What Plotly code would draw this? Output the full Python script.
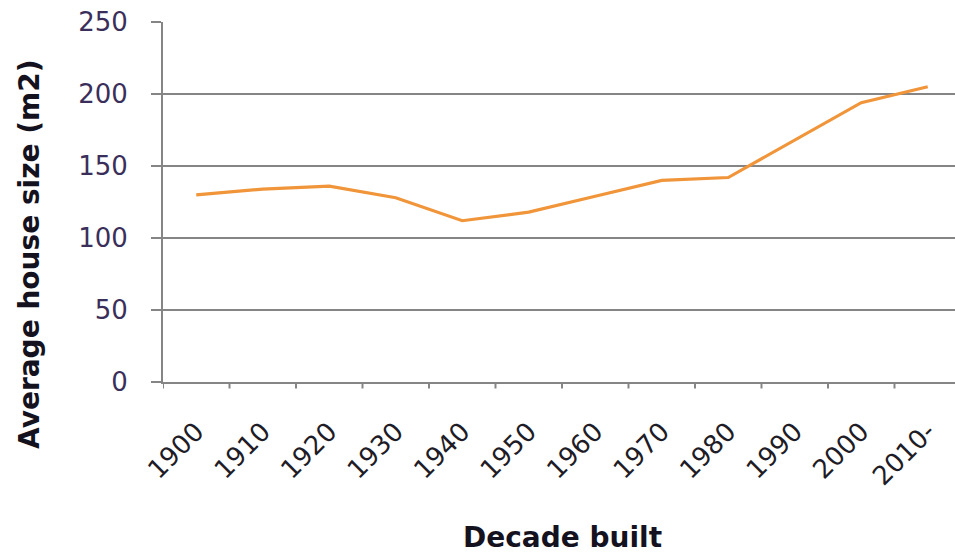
import plotly.graph_objects as go

# Average house size by decade of construction
decades = ["1900", "1910", "1920", "1930", "1940", "1950", "1960",
           "1970", "1980", "1990", "2000", "2010-"]
avg_size_m2 = [130, 134, 136, 128, 112, 118, 129, 140, 142, 168, 194, 205]

y_ticks = [0, 50, 100, 150, 200, 250]

y_tick_font = dict(family="DejaVu Sans, Verdana, sans-serif", size=26, color="#3a2f5a")
x_tick_font = dict(family="DejaVu Sans, Verdana, sans-serif", size=26, color="#1e1c26")
title_font = dict(family="DejaVu Sans, Verdana, sans-serif", size=28, color="#14121e")
grid_col = "#858585"

fig = go.Figure()
fig.add_trace(go.Scatter(
    x=list(range(len(decades))),
    y=avg_size_m2,
    mode="lines",
    line=dict(color="#f0953a", width=3.2),
    hoverinfo="skip",
    showlegend=False,
))

fig.update_layout(
    width=955, height=555,
    margin=dict(l=163, r=0, t=22, b=173),
    paper_bgcolor="white", plot_bgcolor="white",
    xaxis=dict(
        range=[-0.5, 11.41],
        tickmode="array",
        tickvals=list(range(len(decades))),
        ticktext=decades,
        tickangle=-45,
        tickfont=x_tick_font,
        showgrid=False, zeroline=False,
        showline=True, linecolor=grid_col, linewidth=2,
        ticks="", ticklabelstandoff=22,
    ),
    yaxis=dict(
        range=[0, 250],
        tickmode="array", tickvals=y_ticks,
        tickfont=y_tick_font,
        showgrid=True, gridcolor=grid_col, gridwidth=2,
        zeroline=False,
        showline=True, linecolor=grid_col, linewidth=2,
        ticks="outside", ticklen=10, tickwidth=2, tickcolor=grid_col,
        ticklabelstandoff=18,
    ),
)

# category boundary tick marks below the x axis
for i in range(len(decades)):
    fig.add_shape(type="line", xref="x", yref="paper",
                  x0=i - 0.5, x1=i - 0.5, y0=0, y1=-0.018,
                  line=dict(color=grid_col, width=2))

fig.add_annotation(text="<b>Decade built</b>", xref="paper", yref="paper",
                   x=(562 - 163) / 792, y=-(537 - 382) / 360,
                   showarrow=False, font=title_font,
                   xanchor="center", yanchor="middle")
fig.add_annotation(text="<b>Average house size (m2)</b>", xref="paper", yref="paper",
                   x=-(163 - 30) / 792, y=(382 - 255) / 360,
                   showarrow=False, font=title_font, textangle=-90,
                   xanchor="center", yanchor="middle")

fig.write_html("out.html")
